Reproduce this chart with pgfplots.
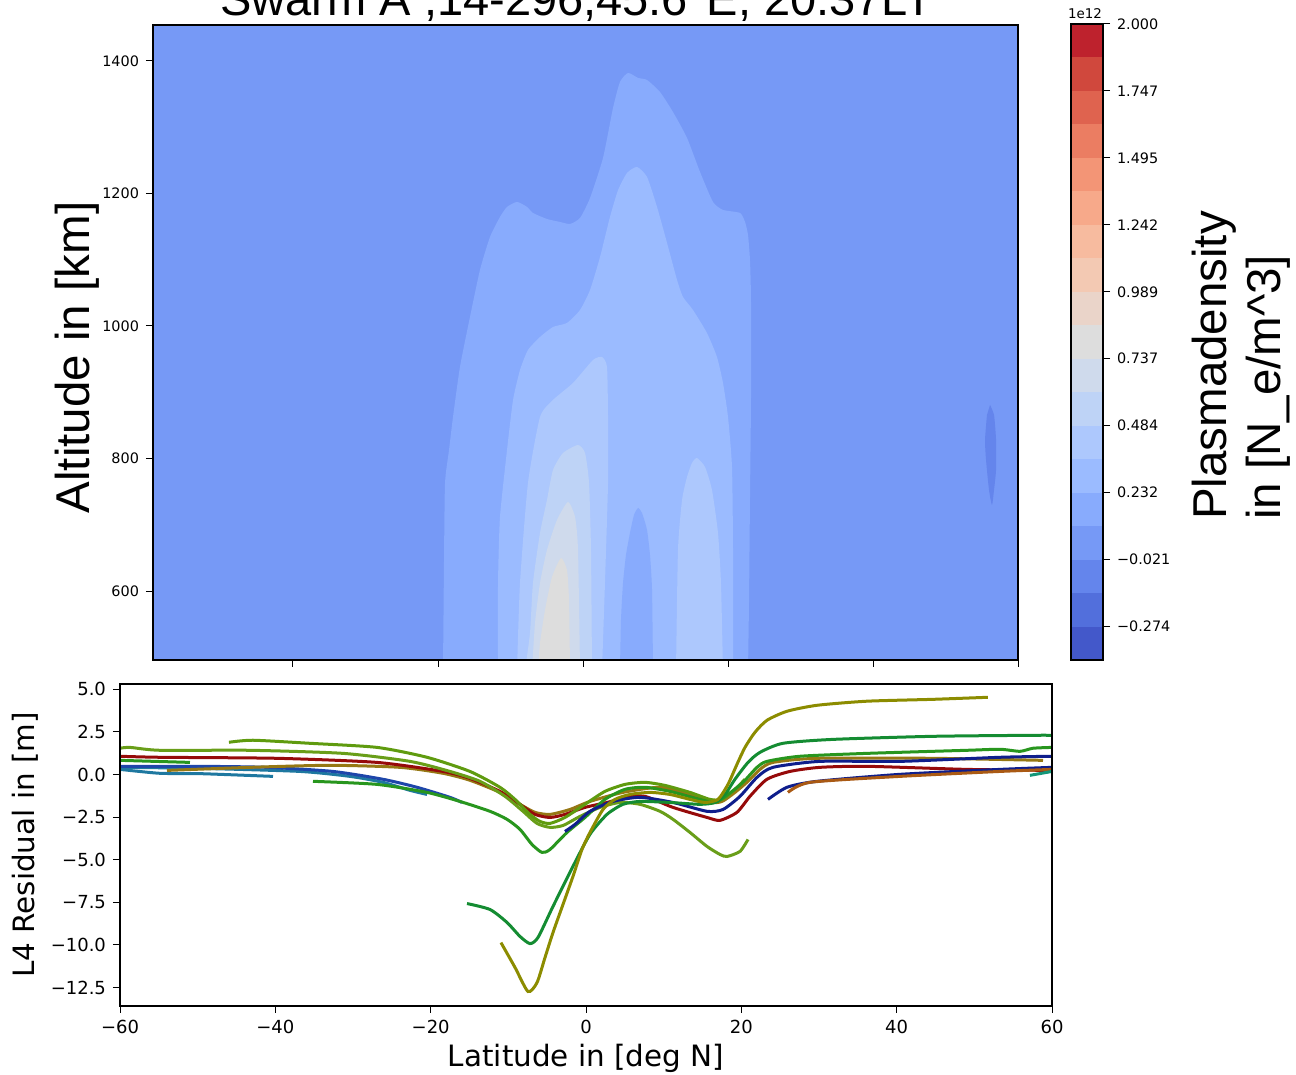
\documentclass[border=0pt]{standalone}
\usepackage{fontspec}
\setmainfont{DejaVu Sans}
\newfontfamily\libsans{Liberation Sans}
\usepackage{pgfplots}
\pgfplotsset{compat=1.18}

% coolwarm, 19 bands from -0.4 to 2.0 (x1e12)
\definecolor{c1}{RGB}{67,88,202}
\definecolor{c2}{RGB}{82,111,220}
\definecolor{c3}{RGB}{100,133,236}
\definecolor{c4}{RGB}{118,153,246}
\definecolor{c5}{RGB}{136,171,253}
\definecolor{c6}{RGB}{155,187,255}
\definecolor{c7}{RGB}{173,200,253}
\definecolor{c8}{RGB}{190,211,246}
\definecolor{c9}{RGB}{207,218,236}
\definecolor{c10}{RGB}{221,221,221}
\definecolor{c11}{RGB}{234,212,201}
\definecolor{c12}{RGB}{243,201,179}
\definecolor{c13}{RGB}{247,187,159}
\definecolor{c14}{RGB}{247,169,138}
\definecolor{c15}{RGB}{243,149,118}
\definecolor{c16}{RGB}{235,125,98}
\definecolor{c17}{RGB}{223,99,79}
\definecolor{c18}{RGB}{208,72,61}
\definecolor{c19}{RGB}{190,34,45}

% line colours
\definecolor{colive}{RGB}{140,140,0}
\definecolor{cdgreen}{RGB}{20,140,50}
\definecolor{cgreen}{RGB}{40,150,30}
\definecolor{cyga}{RGB}{95,155,15}
\definecolor{cygb}{RGB}{105,158,25}
\definecolor{cred}{RGB}{150,10,10}
\definecolor{cbrown}{RGB}{150,120,20}
\definecolor{cblue}{RGB}{30,70,170}
\definecolor{cnavy}{RGB}{15,30,140}
\definecolor{cteal}{RGB}{30,120,160}
\definecolor{corange}{RGB}{170,90,20}
\definecolor{ctealg}{RGB}{20,150,120}

\pgfplotsset{
  band/.style={fill=#1, draw=none, smooth, tension=0.35},
  cbar/.style={fill=#1, draw=none},
  resid/.style={color=#1, line width=1.5pt, smooth, tension=0.4},
}

\begin{document}
\begin{tikzpicture}

% ---------- contour panel ----------
\begin{axis}[
    at={(76.5pt,207.5pt)}, anchor=south west, scale only axis,
    width=432.5pt, height=317.5pt,
    xmin=-59.31, xmax=60, ymin=495.9, ymax=1454.3,
    xtick={-40,-20,0,20,40,60}, xticklabels={},
    ytick={600,800,1000,1200,1400}, yticklabels={600,800,1000,1200,1400},
    tick align=outside, major tick length=3.5pt,
    xtick pos=left, ytick pos=left,
    axis background/.style={fill=c4}, axis on top,
    axis line style={line width=0.6pt, black},
    tick style={line width=0.5pt, black},
    yticklabel style={font=\fontsize{7.2}{8}\selectfont},
]
\addplot[band=c5] coordinates {
  (-19.31,480) (-19.17,646.8) (-19.03,763.1) (-18.48,812.9) (-17.93,862.7)
  (-16.97,938.2) (-15.59,1013.6) (-14.21,1084.6) (-12.83,1134.4) (-11.45,1164.6)
  (-10.48,1179.7) (-9.10,1187.2) (-7.72,1179.7) (-6.90,1170.6) (-4.97,1161.5)
  (-3.17,1157.0) (-1.79,1154.0) (-0.41,1163.1) (0.97,1193.2) (2.76,1253.7)
  (4.14,1329.1) (5.10,1368.3) (6.21,1381.9) (7.59,1374.4) (8.83,1371.3)
  (10.62,1353.2) (12.41,1323.0) (14.35,1283.8) (16.14,1232.5) (17.93,1187.2)
  (19.31,1175.2) (21.66,1170.6) (22.35,1157.0) (22.76,1137.4) (23.03,1099.7)
  (23.17,1039.3) (23.17,888.3) (23.03,737.4) (22.90,586.5) (22.76,480)
} -- cycle;
\addplot[band=c6] coordinates {
  (-11.72,480) (-11.72,612.1) (-11.45,711.7) (-10.48,812.9) (-9.65,888.3)
  (-8.69,933.6) (-7.59,963.8) (-5.93,983.4) (-4.14,998.5) (-2.21,1004.6)
  (-0.41,1024.2) (0.97,1054.4) (2.35,1104.2) (3.72,1164.6) (4.83,1204.9)
  (6.07,1231.0) (7.45,1240.0) (8.83,1225.0) (10.21,1179.7) (11.59,1125.4)
  (12.97,1069.5) (13.79,1043.8) (15.17,1024.2) (17.10,989.4) (18.48,953.2)
  (19.31,914.0) (20.00,862.7) (20.55,787.2) (20.69,661.9) (20.69,480)
} -- cycle;
\addplot[band=c5] coordinates {
  (5.10,480) (5.24,556.3) (5.52,612.1) (5.93,654.4) (6.48,687.6) (7.03,714.7)
  (7.59,725.3) (8.14,717.8) (8.83,692.1) (9.24,654.4) (9.52,601.6) (9.66,480)
} -- cycle;
\addplot[band=c7] coordinates {
  (-9.10,480) (-8.69,612.1) (-7.59,763.1) (-5.93,862.7) (-4.14,888.4)
  (-1.38,914.0) (1.38,948.7) (2.62,953.2) (3.31,938.2) (3.45,862.7)
  (3.45,763.1) (3.03,612.1) (2.62,480)
} -- cycle;
\addplot[band=c7] coordinates {
  (12.83,480) (13.10,661.9) (13.66,737.4) (14.35,772.2) (15.03,793.3)
  (15.72,800.8) (16.83,787.2) (17.79,752.5) (18.62,687.6) (19.03,612.1) (19.31,480)
} -- cycle;
\addplot[band=c8] coordinates {
  (-8.00,480) (-7.31,536.6) (-6.90,612.1) (-5.93,687.6) (-4.97,737.4)
  (-4.14,782.7) (-2.76,808.3) (-0.69,820.4) (0.28,808.3) (0.83,763.1)
  (1.10,661.9) (1.24,480)
} -- cycle;
\addplot[band=c9] coordinates {
  (-7.03,480) (-6.62,551.7) (-5.93,612.1) (-4.97,661.9) (-3.59,707.2)
  (-2.07,734.4) (-1.10,711.7) (-0.69,661.9) (-0.41,480)
} -- cycle;
\addplot[band=c10] coordinates {
  (-6.21,480) (-5.93,521.5) (-5.24,571.3) (-4.28,621.1) (-3.03,649.8)
  (-2.21,631.7) (-1.93,586.5) (-1.79,480)
} -- cycle;
\addplot[band=c3] coordinates {
  (56.14,880.8) (56.69,865.7) (56.97,828.0) (56.97,782.7) (56.69,752.5)
  (56.41,729.9) (56.00,752.5) (55.59,797.8) (55.45,828.0) (55.72,865.7)
} -- cycle;
\end{axis}

% ---------- colour bar ----------
\begin{axis}[
    at={(535.5pt,207.5pt)}, anchor=south west, scale only axis,
    width=16pt, height=318pt,
    xmin=0, xmax=1, ymin=-0.4, ymax=2.0,
    xtick=\empty,
    ytick={-0.27368,-0.02105,0.23158,0.48421,0.73684,0.98947,1.24211,1.49474,1.74737,2.0},
    yticklabels={−0.274,−0.021,0.232,0.484,0.737,0.989,1.242,1.495,1.747,2.000},
    yticklabel pos=right, ytick pos=right,
    tick align=outside, major tick length=3.5pt,
    axis on top,
    axis line style={line width=0.6pt, black},
    tick style={line width=0.5pt, black},
    yticklabel style={font=\fontsize{7.2}{8}\selectfont},
]
\addplot[cbar=c1] coordinates {(0,-0.4) (1,-0.4) (1,2.0) (0,2.0)} -- cycle;
\addplot[cbar=c2] coordinates {(0,-0.27368) (1,-0.27368) (1,2.0) (0,2.0)} -- cycle;
\addplot[cbar=c3] coordinates {(0,-0.14737) (1,-0.14737) (1,2.0) (0,2.0)} -- cycle;
\addplot[cbar=c4] coordinates {(0,-0.02105) (1,-0.02105) (1,2.0) (0,2.0)} -- cycle;
\addplot[cbar=c5] coordinates {(0,0.10526) (1,0.10526) (1,2.0) (0,2.0)} -- cycle;
\addplot[cbar=c6] coordinates {(0,0.23158) (1,0.23158) (1,2.0) (0,2.0)} -- cycle;
\addplot[cbar=c7] coordinates {(0,0.35789) (1,0.35789) (1,2.0) (0,2.0)} -- cycle;
\addplot[cbar=c8] coordinates {(0,0.48421) (1,0.48421) (1,2.0) (0,2.0)} -- cycle;
\addplot[cbar=c9] coordinates {(0,0.61053) (1,0.61053) (1,2.0) (0,2.0)} -- cycle;
\addplot[cbar=c10] coordinates {(0,0.73684) (1,0.73684) (1,2.0) (0,2.0)} -- cycle;
\addplot[cbar=c11] coordinates {(0,0.86316) (1,0.86316) (1,2.0) (0,2.0)} -- cycle;
\addplot[cbar=c12] coordinates {(0,0.98947) (1,0.98947) (1,2.0) (0,2.0)} -- cycle;
\addplot[cbar=c13] coordinates {(0,1.11579) (1,1.11579) (1,2.0) (0,2.0)} -- cycle;
\addplot[cbar=c14] coordinates {(0,1.24211) (1,1.24211) (1,2.0) (0,2.0)} -- cycle;
\addplot[cbar=c15] coordinates {(0,1.36842) (1,1.36842) (1,2.0) (0,2.0)} -- cycle;
\addplot[cbar=c16] coordinates {(0,1.49474) (1,1.49474) (1,2.0) (0,2.0)} -- cycle;
\addplot[cbar=c17] coordinates {(0,1.62105) (1,1.62105) (1,2.0) (0,2.0)} -- cycle;
\addplot[cbar=c18] coordinates {(0,1.74737) (1,1.74737) (1,2.0) (0,2.0)} -- cycle;
\addplot[cbar=c19] coordinates {(0,1.87368) (1,1.87368) (1,2.0) (0,2.0)} -- cycle;
\end{axis}

% ---------- L4 residual panel ----------
\begin{axis}[
    at={(60pt,34.5pt)}, anchor=south west, scale only axis,
    width=466pt, height=161pt,
    xmin=-60, xmax=60, ymin=-13.58, ymax=5.31,
    xtick={-60,-40,-20,0,20,40,60},
    xticklabels={−60,−40,−20,0,20,40,60},
    ytick={-12.5,-10,-7.5,-5,-2.5,0,2.5,5},
    yticklabels={−12.5,−10.0,−7.5,−5.0,−2.5,0.0,2.5,5.0},
    tick align=outside, major tick length=3.5pt,
    xtick pos=left, ytick pos=left,
    axis on top,
    axis line style={line width=0.6pt, black},
    tick style={line width=0.5pt, black},
    ticklabel style={font=\fontsize{9}{10}\selectfont},
]
\addplot[resid=cteal] coordinates {(-60,0.30) (-54.85,0.07) (-49.70,0.05) (-40.30,-0.11)};
\addplot[resid=cteal] coordinates {(-60,0.42) (-49.70,0.36) (-36.83,0.18) (-30.39,-0.11) (-26.14,-0.46) (-22.66,-0.93) (-20.47,-1.17)};
\addplot[resid=cblue] coordinates {(-60,0.48) (-49.70,0.48) (-41.07,0.42) (-32.58,0.18) (-26.14,-0.28) (-21.76,-0.75) (-17.51,-1.34) (-15.97,-1.64)};
\addplot[resid=cgreen] coordinates {(-60,0.83) (-50.99,0.71)};
\addplot[resid=cbrown] coordinates {
  (-53.95,0.24) (-43.26,0.42) (-32.96,0.54) (-23.95,0.42) (-18.41,0.07) (-14.94,-0.34)
  (-11.08,-1.05) (-8.50,-1.75) (-6.57,-2.22) (-4.64,-2.34) (-2.06,-2.05) (0.51,-1.58)
  (4.76,-1.05) (9.53,-0.75) (13.39,-1.17) (15.96,-1.64) (17.51,-1.58) (19.18,-1.05)
  (20.86,-0.40) (22.40,0.30) (24.07,0.71) (29.74,0.95) (44.67,0.95) (58.84,0.83)};
\addplot[resid=cred] coordinates {
  (-60,1.07) (-54.85,1.01) (-39.79,0.95) (-26.91,0.71) (-18.41,0.18) (-14.94,-0.23)
  (-11.08,-0.99) (-8.50,-1.75) (-6.57,-2.34) (-4.64,-2.52) (-2.71,-2.34) (-0.13,-1.93)
  (2.70,-1.64) (5.28,-1.34) (7.59,-1.28) (11.20,-1.93) (15.58,-2.52) (17.25,-2.69)
  (19.44,-2.22) (21.11,-1.28) (23.30,-0.28) (26.26,0.18) (30.13,0.42) (36.18,0.48)
  (49.05,0.30) (60,0.24)};
\addplot[resid=cygb] coordinates {
  (-60,1.54) (-58.71,1.59) (-54.85,1.42) (-43.26,1.42) (-31.29,1.24) (-22.66,0.77)
  (-17.51,0.18) (-13.65,-0.40) (-10.43,-1.28) (-8.11,-2.16) (-6.31,-2.87) (-4.64,-3.10)
  (-2.96,-2.99) (-0.78,-2.46) (1.80,-1.93) (4.38,-1.64) (6.95,-1.75) (9.53,-2.16)
  (11.20,-2.63) (13.39,-3.40) (15.58,-4.22) (17.25,-4.69) (18.15,-4.81) (19.83,-4.51)
  (20.86,-3.81)};
\addplot[resid=cyga] coordinates {
  (-45.97,1.89) (-42.88,2.01) (-35.54,1.83) (-26.91,1.59) (-20.47,1.01) (-14.94,0.18)
  (-11.08,-0.75) (-9.14,-1.46) (-7.21,-2.34) (-5.93,-2.75) (-4.64,-2.87) (-2.71,-2.52)
  (-0.13,-1.75) (2.44,-0.99) (5.02,-0.58) (7.59,-0.46) (10.17,-0.64) (13.39,-1.05)
  (15.96,-1.46) (17.51,-1.46) (19.18,-0.87) (20.47,-0.28)};
\addplot[resid=cgreen] coordinates {
  (-35.15,-0.40) (-26.91,-0.58) (-20.47,-1.05) (-16.23,-1.58) (-12.36,-2.16) (-10.17,-2.63)
  (-8.50,-3.22) (-6.96,-4.10) (-5.67,-4.57) (-4.64,-4.40) (-2.45,-3.40) (-0.13,-2.52)
  (2.44,-1.46) (5.02,-0.87) (7.59,-0.75) (10.81,-0.99) (14.68,-1.46) (16.61,-1.64)
  (18.28,-1.17) (20.21,-0.46) (22.01,0.42) (23.30,0.77) (27.55,1.07) (36.18,1.24)
  (49.05,1.42) (53.30,1.48) (55.88,1.36) (57.55,1.54) (60,1.59)};
\addplot[resid=cnavy] coordinates {
  (-2.71,-3.34) (-1.42,-2.93) (0.51,-2.16) (3.47,-1.58) (6.95,-1.34) (11.20,-1.64)
  (15.58,-2.16) (17.64,-2.05) (19.83,-1.28) (22.01,-0.17) (24.07,0.42) (30.13,0.77)
  (40.43,0.77) (53.30,1.01) (60,1.07)};
\addplot[resid=cdgreen] coordinates {
  (-15.32,-7.57) (-12.36,-7.92) (-10.17,-8.68) (-8.50,-9.50) (-7.21,-9.92) (-6.18,-9.56)
  (-4.25,-7.74) (-1.68,-5.39) (0.51,-3.51) (2.70,-2.34) (4.76,-1.75) (6.95,-1.58)
  (10.81,-1.64) (14.68,-1.75) (16.61,-1.64) (17.90,-1.17) (19.18,-0.28) (20.86,0.71)
  (22.40,1.30) (25.36,1.83) (31.80,2.06) (44.67,2.24) (57.55,2.30) (60,2.30)};
\addplot[resid=colive] coordinates {
  (-10.95,-9.86) (-9.14,-11.32) (-7.47,-12.73) (-6.31,-12.21) (-5.28,-10.74) (-4.25,-9.27)
  (-2.96,-7.62) (-1.68,-5.98) (-0.52,-4.40) (0.51,-3.40) (2.19,-2.05) (3.73,-1.46)
  (5.66,-1.17) (8.24,-1.05) (10.81,-1.17) (13.39,-1.46) (15.32,-1.64) (16.99,-1.46)
  (18.28,-0.58) (19.44,0.60) (20.47,1.59) (21.76,2.48) (23.30,3.18) (25.88,3.71)
  (29.74,4.06) (36.18,4.30) (44.67,4.41) (51.75,4.53)};
\addplot[resid=cnavy] coordinates {(23.43,-1.46) (25.88,-0.75) (29.74,-0.40) (40.43,0.01) (53.30,0.30) (60,0.42)};
\addplot[resid=corange] coordinates {(26.00,-1.05) (28.84,-0.46) (40.43,-0.11) (53.30,0.18) (60,0.30)};
\addplot[resid=ctealg] coordinates {(57.16,-0.05) (60,0.18)};
\end{axis}

% ---------- texts ----------
\node[anchor=base, font=\libsans\fontsize{23.5}{26}\selectfont] at (288.5pt,529.5pt) {Swarm A ,14-296,45.6°E, 20.37LT};
\node[anchor=base, rotate=90, font=\libsans\fontsize{23.75}{26}\selectfont] at (44.5pt,358.75pt) {Altitude in [km]};
\node[anchor=base west, rotate=90, font=\libsans\fontsize{23.75}{26}\selectfont] at (613pt,274pt) {Plasmadensity};
\node[anchor=base west, rotate=90, font=\libsans\fontsize{23.75}{26}\selectfont] at (640pt,274pt) {in [N\_e/m\^{}3]};
\node[anchor=base, font=\fontsize{6.7}{8}\selectfont] at (542.5pt,528pt) {1e12};
\node[anchor=base, rotate=90, font=\fontsize{14.7}{17}\selectfont] at (17.25pt,115pt) {L4 Residual in [m]};
\node[anchor=base, font=\fontsize{14.7}{17}\selectfont] at (293pt,4.25pt) {Latitude in [deg N]};

\pgfresetboundingbox
\path[use as bounding box] (0pt,0pt) rectangle (648pt,537.5pt);
\end{tikzpicture}
\end{document}
